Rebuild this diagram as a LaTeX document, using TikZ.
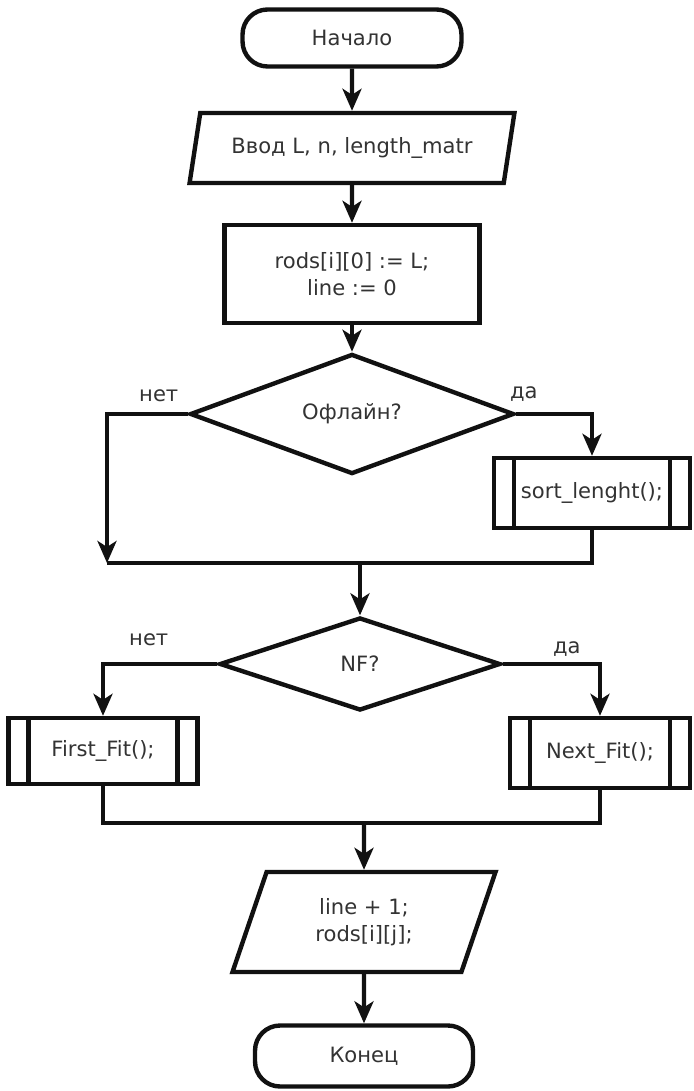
\documentclass[tikz,border=0pt]{standalone}
\usepackage{fontspec}
\setmainfont{DejaVu Sans}
\usepackage{tikz}
\usetikzlibrary{arrows.meta,shapes.geometric,calc}
\definecolor{fcInk}{HTML}{111111}
\definecolor{fcText}{HTML}{333333}
\tikzset{
  % Start / end terminal
  termbox/.style={rectangle,rounded corners=0.5cm,
    minimum width=4.38cm,minimum height=1.14cm,
    align=center,draw=fcInk,fill=white,line width=2.5pt,
    font=\fontsize{12}{15}\selectfont,text=fcText},
  % Input / output (parallelogram)
  iobox/.style={trapezium,trapezium stretches=true,
    trapezium left angle=68,trapezium right angle=112,
    inner sep=0pt,align=center,draw=fcInk,fill=white,line width=2.5pt,
    font=\fontsize{12}{15}\selectfont,text=fcText},
  % Process box
  procbox/.style={rectangle,inner sep=0pt,
    align=center,draw=fcInk,fill=white,line width=2.5pt,
    font=\fontsize{12}{15}\selectfont,text=fcText},
  % Condition (diamond)
  condbox/.style={diamond,inner sep=0pt,
    align=center,draw=fcInk,fill=white,line width=2.5pt,
    font=\fontsize{12}{15}\selectfont,text=fcText},
  % Subroutine box (double side bars)
  subbox/.style={procbox,minimum height=1.4cm,
    path picture={
      \draw[line width=2.5pt,draw=fcInk]
        ([xshift=0.4cm]path picture bounding box.north west) --
        ([xshift=0.4cm]path picture bounding box.south west)
        ([xshift=-0.4cm]path picture bounding box.north east) --
        ([xshift=-0.4cm]path picture bounding box.south east);}},
  % Arrows
  arr/.style={-{Stealth[length=0.44cm,width=0.38cm,inset=0.12cm]},
    line width=2.5pt,draw=fcInk},
  conn/.style={line width=2.5pt,draw=fcInk},
  lbl/.style={font=\fontsize{12}{15}\selectfont,text=fcText,inner sep=3pt},
}
\begin{document}
\begin{tikzpicture}[x=0.02cm,y=-0.02cm]
  \fill[white] (0,0) rectangle (693,1091);
  \useasboundingbox (0,0) rectangle (693,1091);

  \node[termbox] (start) at (352,38) {Начало};

  \node[iobox,minimum width=6.5cm,minimum height=1.4cm] (input)
    at (352,148) {Ввод L, n, length\_matr};

  \node[procbox,minimum width=5.1cm,minimum height=1.96cm] (init)
    at (352,274) {rods[i][0] := L;\\line := 0};

  \node[condbox,minimum width=6.48cm,minimum height=2.16cm] (offline)
    at (352,414) {Офлайн?};

  \node[subbox,minimum width=3.92cm] (sort)
    at (592,493) {sort\_lenght();};

  \coordinate (join1) at (107,563);

  \node[condbox,minimum width=5.62cm,minimum height=1.86cm] (nf)
    at (360,664) {NF?};

  \node[subbox,minimum width=3.78cm,minimum height=1.32cm] (first)
    at (103,751) {First\_Fit();};

  \node[subbox,minimum width=3.6cm] (next)
    at (600,753) {Next\_Fit();};

  \coordinate (join2) at (364,823);

  \node[iobox,trapezium left angle=70,trapezium right angle=110,
    minimum width=5.3cm,minimum height=2cm] (output)
    at (364,922) {line + 1;\\rods[i][j];};

  \node[termbox,minimum width=4.36cm,minimum height=1.22cm] (stop)
    at (364,1056) {Конец};

  \draw[arr] (start) -- (input);
  \draw[arr] (input) -- (init);
  \draw[arr] (init) -- (offline);
  \draw[arr] (offline.west) -| node[lbl,above,pos=0.18,yshift=0.1cm] {нет} (join1);
  \draw[arr] (offline.east) -| node[lbl,above,pos=0.05,yshift=0.1cm] {да} (sort);
  \draw[conn] (sort) |- (join1);
  \draw[arr] (nf |- join1) -- (nf);
  \draw[arr] (nf.west) -| node[lbl,above,pos=0.3,yshift=0.22cm] {нет} (first);
  \draw[arr] (nf.east) -| node[lbl,above,pos=0.33] {да} (next);
  \draw[conn] (first) |- (join2) -| (next);
  \draw[arr] (join2) -- (output);
  \draw[arr] (output) -- (stop);
\end{tikzpicture}
\end{document}
